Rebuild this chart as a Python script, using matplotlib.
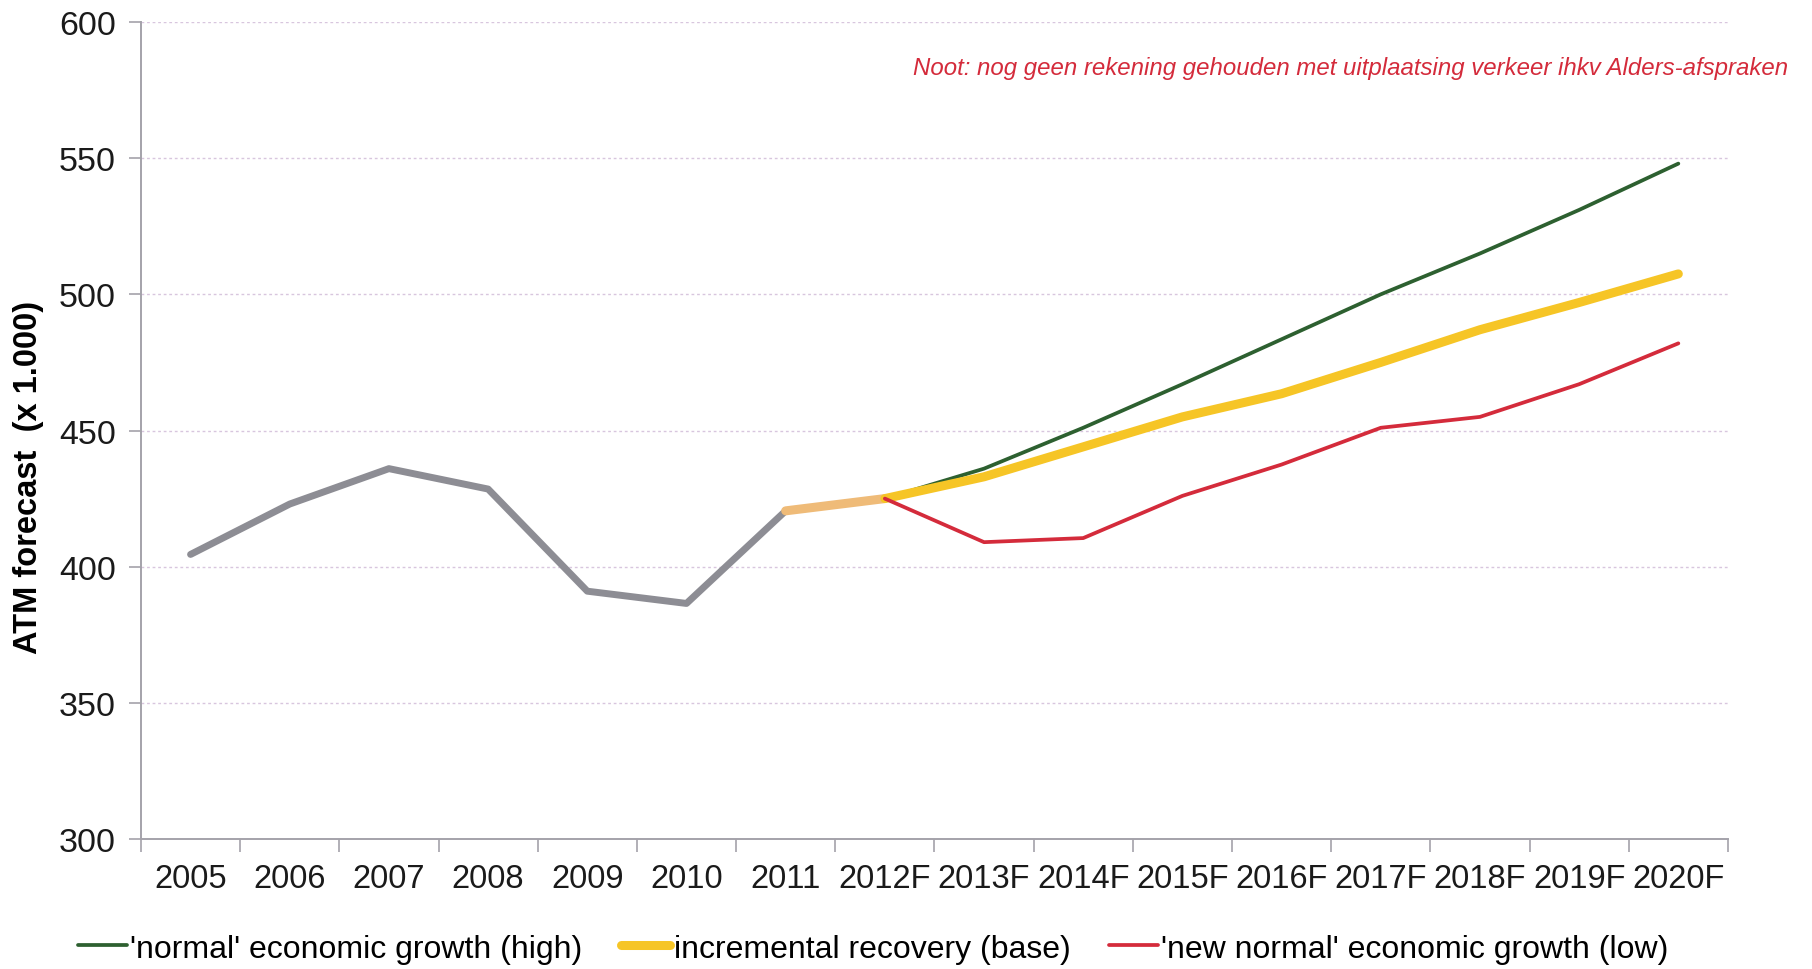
import numpy as np
import matplotlib
matplotlib.use("Agg")
import matplotlib.pyplot as plt

plt.rcParams['font.family'] = ['Liberation Sans', 'DejaVu Sans']

years = ['2005', '2006', '2007', '2008', '2009', '2010', '2011',
         '2012F', '2013F', '2014F', '2015F', '2016F', '2017F', '2018F', '2019F', '2020F']
historic = [404.5, 423.0, 436.0, 428.5, 391.0, 386.5, 420.5]
high = [425.0, 436.0, 451.0, 467.0, 483.5, 500.0, 515.0, 531.0, 548.0]
base = [420.5, 425.0, 433.0, 444.0, 455.0, 463.5, 475.0, 487.0, 497.0, 507.5]
low = [425.0, 409.0, 410.5, 426.0, 437.5, 451.0, 455.0, 467.0, 482.0]

GREEN = '#2D6030'
YELLOW = '#F6C526'
PEACH = '#EFBB78'
RED = '#D42B3B'
GREY = '#8D8D94'
AXIS = '#A4A2AA'

x_all = np.arange(len(years))
x_hist = x_all[:len(historic)]
x_base = x_all[len(historic) - 1:]
x_fc = x_all[len(historic):]

fig = plt.figure(figsize=(18.12, 9.70), dpi=100)
ax = fig.add_axes([0.0778, 0.134, 0.8758, 0.8423])

ax.plot(x_hist, historic, color=GREY, lw=5.0, solid_capstyle='round', solid_joinstyle='round', zorder=3)
ax.plot(x_fc, high, color=GREEN, lw=2.7, solid_capstyle='round', zorder=4,
        label="'normal' economic growth (high)")
# first base segment (2011 -> 2012F) is drawn in a lighter tint
ax.plot(x_base[:2], base[:2], color=PEACH, lw=6.5, solid_capstyle='round', zorder=5)
ax.plot(x_base[1:], base[1:], color=YELLOW, lw=6.5, solid_capstyle='round', zorder=5,
        label='incremental recovery (base)')
ax.plot(x_fc, low, color=RED, lw=2.7, solid_capstyle='round', zorder=6,
        label="'new normal' economic growth (low)")

ax.set_xlim(-0.5, len(years) - 0.5)
ax.set_ylim(300, 600)
ax.set_yticks(np.arange(300, 601, 50))
ax.set_xticks(x_all)
ax.set_xticklabels(years)
ax.set_xticks(np.arange(-0.5, len(years)), minor=True)
ax.tick_params(axis='x', which='major', length=0, pad=17, labelsize=23.5, colors='#1A1A1A')
ax.tick_params(axis='x', which='minor', length=9, width=1.2, color=AXIS, direction='out')
ax.tick_params(axis='y', length=9, width=1.2, color=AXIS, pad=9, labelsize=24.5, labelcolor='#1A1A1A')

ax.grid(axis='y', color='#D8C6DE', lw=1.0, ls=(0, (2, 2)))
ax.set_axisbelow(True)
for side in ['top', 'right']:
    ax.spines[side].set_visible(False)
for side in ['left', 'bottom']:
    ax.spines[side].set_color(AXIS)
    ax.spines[side].set_linewidth(1.4)

ax.set_ylabel('ATM forecast  (x 1.000)', fontsize=23.5, fontweight='bold')
ax.yaxis.set_label_coords(-0.061, 0.444)

fig.text(0.987, 0.929, 'Noot: nog geen rekening gehouden met uitplaatsing verkeer ihkv Alders-afspraken',
         color=RED, fontsize=17.3, style='italic', ha='right', va='center')

fig.legend(loc='center left', bbox_to_anchor=(0.027, 0.021), ncol=3, frameon=False,
           fontsize=23, handlelength=1.55, handletextpad=0.1, columnspacing=1.2)

fig.savefig('out.png', dpi=100, facecolor='white')
